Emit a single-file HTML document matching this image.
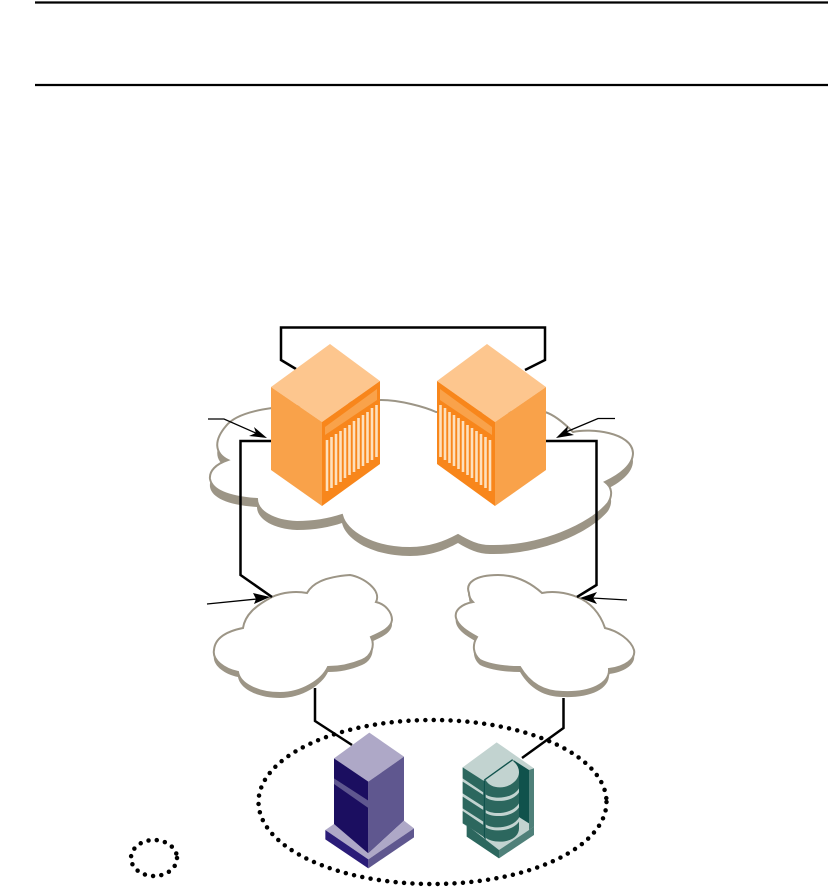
<!DOCTYPE html>
<html><head><meta charset="utf-8"><style>html,body{margin:0;padding:0;background:#fff}svg{display:block}</style></head>
<body>
<svg width="828" height="889" viewBox="0 0 828 889" xmlns="http://www.w3.org/2000/svg">
<defs>
<path id="big" d="M272 408C250 411 233 417 226 426C214 440 214 453 228 460C216 464 209 471 210 479C212 490 228 497 257 499C257 511 273 521 297 522C315 522 330 519 342 515C346 532 373 548 410 548C430 548 445 542 458 535C468 541 478 546 490 546C540 547 590 525 608 503C613 495 612 487 605 482C620 475 633 465 633 453C632 432 590 428 573 432C565 424 555 415 545 412L436 412C425 407 400 400 381 400Z"/>
<path id="cl" d="M272 597C283 592 296 591 307 593C312 584 323 577 350 575C363 577 382 590 376 602C385 604 392 612 392 620C391 628 382 632 371 637C375 645 372 656 362 660C350 665 340 667 328 667C322 680 302 693 280 693C258 693 240 684 238 672C224 669 212 660 214 650C215 637 228 631 243 628C245 615 255 606 272 597Z"/>
<path id="cr" d="M542 593C532 584 518 575 498 575C475 575 465 583 469 593C469 597 471 600 473 602C462 604 454 610 456 618C458 626 468 632 477 637C472 645 473 654 480 660C490 665 505 667 520 667C530 684 545 692 563 692C590 693 610 684 609 669C625 667 636 659 634 650C631 640 618 631 605 628C600 613 590 602 577 597C565 592 552 591 542 593Z"/>
<g id="box">
<polygon points="330,344 271,387 322,422 380,381" fill="#fdc68e"/>
<polygon points="271,387 322,422 322,506 271,470" fill="#f9a24a"/>
<polygon points="322,422 380,381 380,464 322,506" fill="#f8861b"/>
<polygon points="325,427 377,389 377,400 325,435" fill="#f9a24a"/>
<g stroke="#fde0bd" stroke-width="2.600">
<line x1="327" y1="440" x2="327" y2="491"/><line x1="331.500" y1="437" x2="331.500" y2="488"/><line x1="336" y1="434" x2="336" y2="485"/><line x1="340.500" y1="431" x2="340.500" y2="482"/><line x1="345" y1="428" x2="345" y2="478"/><line x1="349.500" y1="425" x2="349.500" y2="475"/><line x1="354" y1="421" x2="354" y2="472"/><line x1="358.500" y1="418" x2="358.500" y2="469"/><line x1="363" y1="415" x2="363" y2="466"/><line x1="367.500" y1="412" x2="367.500" y2="463"/><line x1="372" y1="408" x2="372" y2="460"/><line x1="376.500" y1="405" x2="376.500" y2="457"/>
</g>
</g>
</defs>
<rect width="828" height="889" fill="#fff"/>
<line x1="35" y1="2.500" x2="828" y2="2.500" stroke="#000" stroke-width="2.300"/>
<line x1="35" y1="85" x2="828" y2="85" stroke="#000" stroke-width="2.300"/>

<use href="#big" y="8" fill="#9c9586"/>
<use href="#big" fill="#fff" stroke="#9c9586" stroke-width="2"/>
<use href="#cl" y="5" fill="#9c9586"/>
<use href="#cl" fill="#fff" stroke="#9c9586" stroke-width="2"/>
<use href="#cr" y="5" fill="#9c9586"/>
<use href="#cr" fill="#fff" stroke="#9c9586" stroke-width="2"/>

<g fill="none" stroke="#000" stroke-width="2.500">
<path d="M296 369L281 360V327.500H545V360L525 370"/>
<path d="M271 441H240.500V575L272 597"/>
<path d="M546 441H596.500V585L577 597"/>
<path d="M315 688V721L352 745"/>
<path d="M563.500 698V728L522 758"/>
</g>
<use href="#box"/>
<use href="#box" transform="translate(817,0) scale(-1,1)"/>

<g fill="none" stroke="#000" stroke-width="1.300">
<path d="M208 419H224L258 434"/>
<path d="M615 418.500H598L566 432"/>
<path d="M207 604L257 599"/>
<path d="M627 600L592 598"/>
</g>
<g fill="#000">
<polygon points="267,438 254,427 256,433 249,436"/>
<polygon points="556,438 568,426 567,432 574,435"/>
<polygon points="270,597 253,593 256,599 254,604"/>
<polygon points="580,598 597,592 593,598 597,604"/>
</g>

<ellipse cx="432.500" cy="802" rx="174" ry="82" fill="none" stroke="#000" stroke-width="4.500" stroke-linecap="round" stroke-dasharray="0 8.430"/>
<ellipse cx="154" cy="858" rx="23" ry="18" fill="none" stroke="#000" stroke-width="4.500" stroke-linecap="round" stroke-dasharray="0 8.300"/>

<g transform="translate(300,710) scale(0.33333)">
<polygon points="208,68 102,145 205,215 312,140" fill="#aea8c7"/>
<polygon points="102,145 205,215 205,430 102,355" fill="#1b0e60"/>
<polygon points="205,215 312,140 312,332 205,430" fill="#5f578f"/>
<polygon points="102,205 205,272 205,294 102,222" fill="#5f578f"/>
<polygon points="76,360 102,342 205,430 312,332 342,355 205,448" fill="#aea8c7"/>
<polygon points="76,360 205,448 205,475 76,388" fill="#2a1c78"/>
<polygon points="205,448 342,355 342,382 205,475" fill="#5f578f"/>
</g>

<g transform="translate(455,735) scale(0.33333)">
<polygon points="125,22 23,97 23,265 35,275 132,345 237,275 237,100" fill="#c2d3d0"/>
<polygon points="35,270 132,345 132,370 35,305" fill="#2c675e"/>
<polygon points="132,345 237,275 237,300 132,370" fill="#4f8079"/>
<polygon points="175,75 222,105 222,265 190,245" fill="#10524c"/>
<polygon points="222,105 237,100 237,275 222,285" fill="#4f8079"/>
<polygon points="23,97 85,137 85,172 23,130" fill="#2c675e"/>
<polygon points="23,140 85,180 85,215 23,175" fill="#2c675e"/>
<polygon points="23,185 85,225 85,260 23,220" fill="#2c675e"/>
<polygon points="23,228 85,270 85,305 35,272 23,265" fill="#2c675e"/>
<polygon points="85,137 92,135 92,315 85,305" fill="#10524c"/>
<path d="M92 135L172 77C184 85 192 98 192 112V280C192 305 165 320 135 320C115 320 100 315 92 308Z" fill="#2c675e"/>
<path d="M92 135L172 77C184 85 192 98 192 112C192 135 165 157 135 157C115 157 100 150 92 135Z" fill="#c2d3d0"/>
<path d="M88 135L173 74" stroke="#10524c" stroke-width="4" fill="none"/>
<path d="M92 178C110 192 170 195 192 160V172C170 205 110 202 92 187Z" fill="#c2d3d0"/>
<path d="M92 225C110 239 170 240 192 205V217C170 250 110 247 92 234Z" fill="#c2d3d0"/>
<path d="M92 268C110 282 170 283 192 248V260C170 293 110 290 92 277Z" fill="#c2d3d0"/>
</g>
</svg>
</body></html>
